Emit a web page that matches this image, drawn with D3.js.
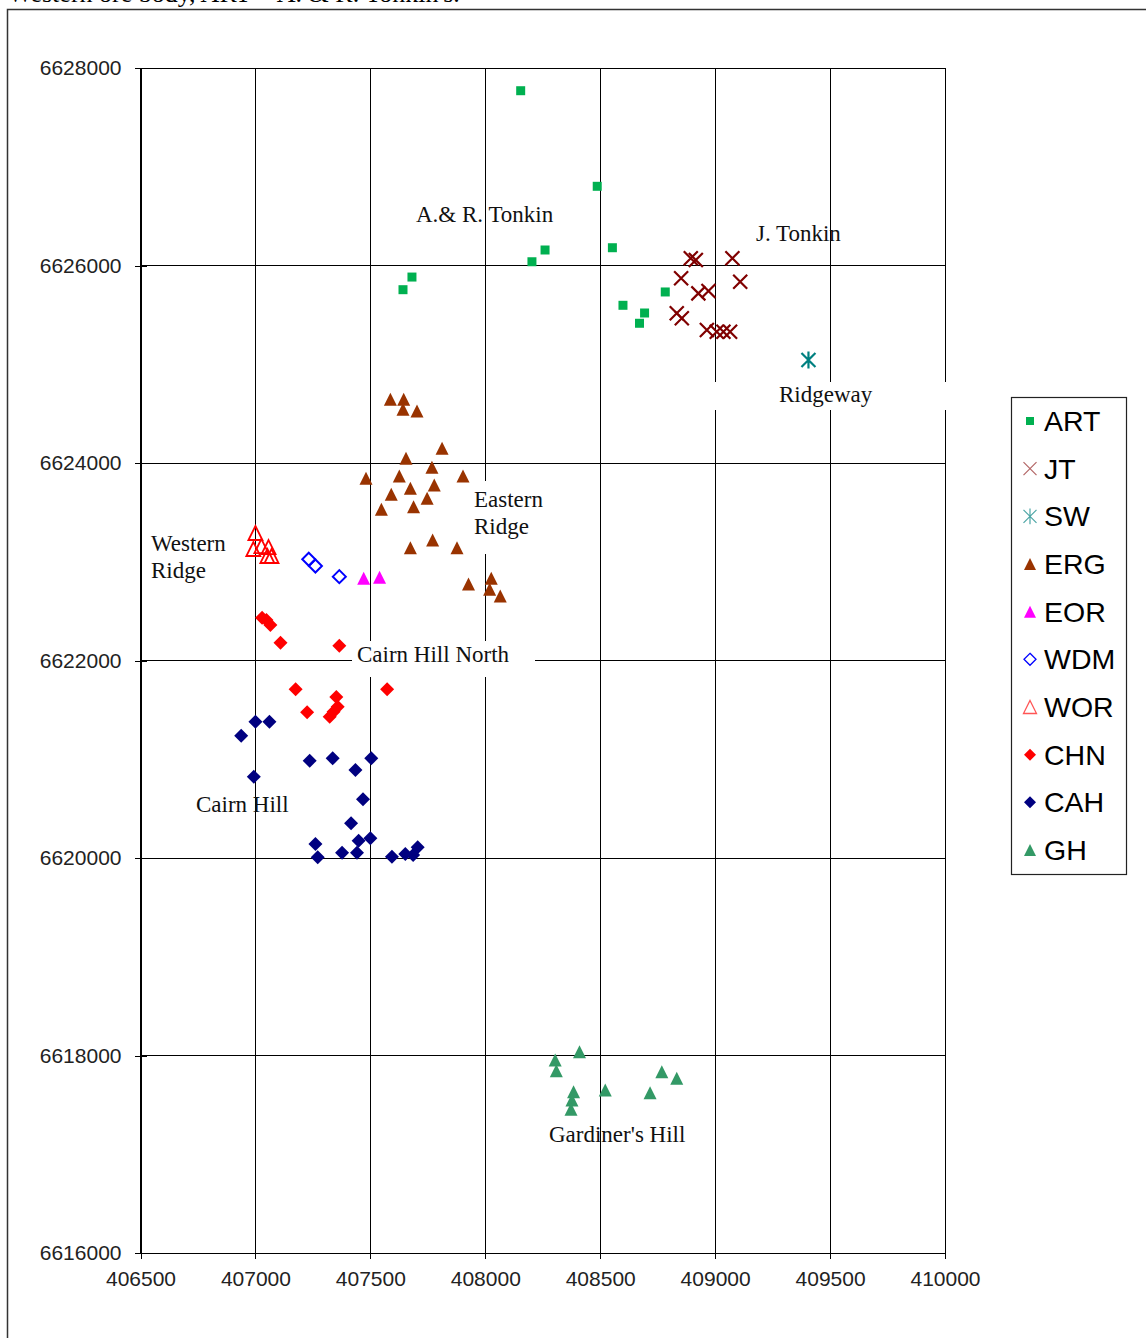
<!DOCTYPE html>
<html>
<head>
<meta charset="utf-8">
<script src="https://cdn.jsdelivr.net/npm/d3@7"></script>
<style>
  html, body { margin: 0; padding: 0; background: #fff; }
  svg { display: block; }
</style>
</head>
<body>
<svg id="chart" width="1146" height="1338"></svg>
<script>
// Drill-hole collar positions (easting, northing) for each prospect.
const xTicks = [406500, 407000, 407500, 408000, 408500, 409000, 409500, 410000];
const yTicks = [6616000, 6618000, 6620000, 6622000, 6624000, 6626000, 6628000];

const seriesNames = ["ART", "JT", "SW", "ERG", "EOR", "WDM", "WOR", "CHN", "CAH", "GH"];

const artE = [408154, 408487, 408553, 408260, 408203, 407681, 407642, 408599, 408783, 408693, 408671];
const artN = [6627770, 6626802, 6626180, 6626157, 6626038, 6625883, 6625755, 6625597, 6625732, 6625519, 6625415];

const jtE = [408894, 408916, 409075, 408852, 409109, 408927, 408971, 408833, 408855, 408964, 409007, 409036, 409065];
const jtN = [6626073, 6626056, 6626073, 6625870, 6625836, 6625718, 6625742, 6625516, 6625465, 6625347, 6625330, 6625330, 6625330];

const swE = [409406];
const swN = [6625043];

const ergE = [407587, 407645, 407642, 407703, 407812, 407655, 407768, 407481, 407626, 407903, 407778, 407674,
              407591, 407747, 407688, 407548, 407771, 407674, 407877, 408026, 407927, 408019, 408065];
const ergN = [6624645, 6624645, 6624544, 6624526, 6624149, 6624047, 6623956, 6623845, 6623868, 6623868, 6623777, 6623744,
              6623683, 6623642, 6623557, 6623531, 6623220, 6623142, 6623142, 6622832, 6622774, 6622721, 6622653];

const eorE = [407471, 407540];
const eorN = [6622832, 6622842];

const wdmE = [407232, 407261, 407365];
const wdmN = [6623025, 6622957, 6622849];

const worE = [407000, 406991, 407026, 407057, 407052, 407070];
const worN = [6623291, 6623129, 6623159, 6623149, 6623058, 6623058];

const chnE = [407029, 407048, 407065, 407109, 407365, 407175, 407573, 407225, 407352, 407358, 407340, 407323];
const chnN = [6622433, 6622410, 6622359, 6622180, 6622150, 6621708, 6621708, 6621475, 6621630, 6621532, 6621481, 6621431];

const cahE = [406938, 407000, 407061, 406993, 407236, 407336, 407435, 407504, 407468, 407416,
              407261, 407271, 407377, 407442, 407449, 407500, 407594, 407652, 407686, 407706];
const cahN = [6621238, 6621380, 6621380, 6620823, 6620985, 6621009, 6620891, 6621009, 6620594, 6620351,
              6620142, 6620007, 6620053, 6620053, 6620175, 6620199, 6620013, 6620040, 6620030, 6620108];

const ghE = [408304, 408309, 408410, 408384, 408377, 408373, 408522, 408768, 408833, 408717];
const ghN = [6617954, 6617846, 6618038, 6617633, 6617549, 6617455, 6617650, 6617836, 6617769, 6617623];

const annotations = [
  { lines: ["A.& R. Tonkin"], x: 416, y: 222 },
  { lines: ["J. Tonkin"], x: 756, y: 241 },
  { lines: ["Ridgeway"], x: 779, y: 402 },
  { lines: ["Eastern", "Ridge"], x: 474, y: 507 },
  { lines: ["Western", "Ridge"], x: 151, y: 551 },
  { lines: ["Cairn Hill North"], x: 357, y: 662 },
  { lines: ["Cairn Hill"], x: 196, y: 812 },
  { lines: ["Gardiner's Hill"], x: 549, y: 1142 }
];

// ---- marker shapes ----
const shapes = {
  square: s => `M${-s/2},${-s/2}h${s}v${s}h${-s}Z`,
  cross: s => `M${-s/2},${-s/2}L${s/2},${s/2}M${s/2},${-s/2}L${-s/2},${s/2}`,
  star: s => `M${-s/2},${-s/2}L${s/2},${s/2}M${s/2},${-s/2}L${-s/2},${s/2}M0,${-s*0.6}V${s*0.6}`,
  triangle: s => `M0,${-s/2}L${s/2},${s/2}L${-s/2},${s/2}Z`,
  diamond: s => `M0,${-s/2}L${s/2},0L0,${s/2}L${-s/2},0Z`
};

const styles = {
  ART: { shape: "square",   size: 9,  fill: "#00B050", stroke: "none",    sw: 0,   leg: 8 },
  JT:  { shape: "cross",    size: 14, fill: "none",    stroke: "#800000", sw: 2.2, leg: 13, legSw: 1.2, legStroke: "#b36666" },
  SW:  { shape: "star",     size: 14, fill: "none",    stroke: "#008080", sw: 2.2, leg: 13, legSw: 1.2, legStroke: "#4da6a6" },
  ERG: { shape: "triangle", size: 13, fill: "#993300", stroke: "none",    sw: 0,   leg: 12 },
  EOR: { shape: "triangle", size: 13, fill: "#FF00FF", stroke: "none",    sw: 0,   leg: 12 },
  WDM: { shape: "diamond",  size: 13, fill: "none",    stroke: "#0000FF", sw: 2,   leg: 12, legSw: 1.3 },
  WOR: { shape: "triangle", size: 14, fill: "none",    stroke: "#FF0000", sw: 1.8, leg: 13, legSw: 1.3, legStroke: "#ff5555" },
  CHN: { shape: "diamond",  size: 14, fill: "#FF0000", stroke: "none",    sw: 0,   leg: 12 },
  CAH: { shape: "diamond",  size: 14, fill: "#000080", stroke: "none",    sw: 0,   leg: 12 },
  GH:  { shape: "triangle", size: 13, fill: "#339966", stroke: "none",    sw: 0,   leg: 12 }
};

const seriesData = {
  ART: d3.zip(artE, artN), JT: d3.zip(jtE, jtN), SW: d3.zip(swE, swN),
  ERG: d3.zip(ergE, ergN), EOR: d3.zip(eorE, eorN), WDM: d3.zip(wdmE, wdmN),
  WOR: d3.zip(worE, worN), CHN: d3.zip(chnE, chnN), CAH: d3.zip(cahE, cahN),
  GH: d3.zip(ghE, ghN)
};

const svg = d3.select("#chart");
const sansFont = "'Liberation Sans', Arial, sans-serif";
const serifFont = "'Liberation Serif', 'Times New Roman', serif";

// caption running off the top of the page
svg.append("text")
  .attr("x", 8).attr("y", 2)
  .attr("font-family", serifFont).attr("font-size", 26)
  .attr("fill", "#000")
  .text("Western ore body, ART = A. & R. Tonkin's.");

// outer frame
svg.append("rect")
  .attr("x", 7.5).attr("y", 9.5).attr("width", 1200).attr("height", 1400)
  .attr("fill", "none").attr("stroke", "#333").attr("stroke-width", 1.5);

const plot = { left: 140.5, right: 945, top: 68, bottom: 1253 };

const x = d3.scaleLinear().domain([406500, 410000]).range([plot.left, plot.right]);
const y = d3.scaleLinear().domain([6616000, 6628000]).range([plot.bottom, plot.top]);

// gridlines
const grid = svg.append("g").attr("stroke", "#000").attr("stroke-width", 1).attr("shape-rendering", "crispEdges");
grid.selectAll(".hg").data(yTicks).join("line")
  .attr("x1", plot.left).attr("x2", plot.right)
  .attr("y1", d => y(d)).attr("y2", d => y(d));
grid.selectAll(".vg").data(xTicks).join("line")
  .attr("y1", plot.top).attr("y2", plot.bottom)
  .attr("x1", d => x(d)).attr("x2", d => x(d));

// axes
const fmt = d3.format("d");
const xAxis = svg.append("g")
  .attr("transform", `translate(0,${plot.bottom})`)
  .call(d3.axisBottom(x).tickValues(xTicks).tickFormat(fmt).tickSize(6).tickPadding(12));
xAxis.selectAll(".tick line").attr("y1", -6).attr("y2", 6);

const yAxis = svg.append("g")
  .attr("transform", `translate(${plot.left},0)`)
  .call(d3.axisLeft(y).tickValues(yTicks).tickFormat(fmt).tickSize(6).tickPadding(13));
yAxis.selectAll(".tick line").attr("x1", 6).attr("x2", -6);

[xAxis, yAxis].forEach(a => {
  a.select(".domain").attr("stroke", "#000").attr("shape-rendering", "crispEdges");
  a.selectAll(".tick line").attr("stroke", "#000").attr("shape-rendering", "crispEdges");
  a.selectAll(".tick text").attr("font-family", sansFont).attr("font-size", 21).attr("fill", "#222");
});

// markers
const marks = svg.append("g");
seriesNames.forEach(name => {
  const st = styles[name];
  marks.append("g").attr("class", "series-" + name)
    .selectAll("path").data(seriesData[name]).join("path")
    .attr("transform", d => `translate(${x(d[0])},${y(d[1])})`)
    .attr("d", shapes[st.shape](st.size))
    .attr("fill", st.fill)
    .attr("stroke", st.stroke)
    .attr("stroke-width", st.sw)
    .attr("stroke-linejoin", "miter");
});

// label boxes that sit over the grid
const boxes = [
  { x: 470, y: 481, w: 82, h: 73 },
  { x: 352, y: 641, w: 183, h: 36 },
  { x: 705, y: 382, w: 243, h: 28 }
];
svg.append("g").selectAll("rect").data(boxes).join("rect")
  .attr("x", d => d.x).attr("y", d => d.y).attr("width", d => d.w).attr("height", d => d.h)
  .attr("fill", "#fff");

// prospect labels
const labels = svg.append("g")
  .attr("font-family", serifFont).attr("font-size", 23).attr("fill", "#111");
annotations.forEach(a => {
  const t = labels.append("text").attr("x", a.x).attr("y", a.y);
  a.lines.forEach((ln, i) => {
    t.append("tspan").attr("x", a.x).attr("dy", i === 0 ? 0 : 27).text(ln);
  });
});

// legend
const legend = svg.append("g");
legend.append("rect")
  .attr("x", 1011.5).attr("y", 397.5).attr("width", 115).attr("height", 477)
  .attr("fill", "#fff").attr("stroke", "#222").attr("stroke-width", 1.2);
const legRow = d3.scalePoint().domain(seriesNames).range([421, 850]);
seriesNames.forEach(name => {
  const st = styles[name];
  const g = legend.append("g").attr("transform", `translate(0,${legRow(name)})`);
  g.append("path")
    .attr("transform", "translate(1030,0)")
    .attr("d", shapes[st.shape](st.leg))
    .attr("fill", st.fill)
    .attr("stroke", st.legStroke || st.stroke)
    .attr("stroke-width", st.legSw || 0);
  g.append("text")
    .attr("x", 1044).attr("y", 10)
    .attr("font-family", sansFont).attr("font-size", 28.5).attr("fill", "#000")
    .text(name);
});
</script>
</body>
</html>
